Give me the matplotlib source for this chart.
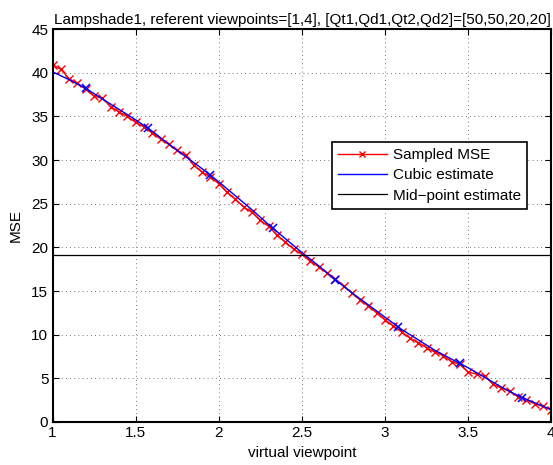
import numpy as np
import matplotlib
matplotlib.use('Agg')
import matplotlib.pyplot as plt

plt.rcParams['font.family'] = ['Liberation Sans', 'DejaVu Sans']

# sampled MSE, every 0.05 from 1 to 4
x_samp = np.arange(61) * 0.05 + 1.0
mse_samp = [40.9, 40.4, 39.3, 38.8, 38.1, 37.3, 37.1, 36.1, 35.5, 35.0,
            34.3, 33.8, 33.1, 32.4, 31.8, 31.1, 30.6, 29.4, 28.6, 28.1,
            27.3, 26.3, 25.5, 24.6, 24.0, 23.1, 22.4, 21.4, 20.6, 19.8,
            19.2, 18.4, 17.8, 17.1, 16.4, 15.6, 14.8, 14.0, 13.3, 12.5,
            11.7, 11.0, 10.3, 9.6, 9.1, 8.5, 8.0, 7.6, 6.9, 6.6,
            5.7, 5.5, 5.3, 4.3, 3.9, 3.5, 2.9, 2.5, 2.1, 1.8, 1.4]

# cubic estimate
x_cubic = [1.0, 1.1, 1.2, 1.3, 1.4, 1.5, 1.6, 1.7, 1.8, 1.9, 2.0,
           2.1, 2.2, 2.3, 2.4, 2.5, 2.6, 2.7, 2.8, 2.9, 3.0,
           3.1, 3.2, 3.3, 3.4, 3.5, 3.6, 3.7, 3.8, 3.9, 4.0]
mse_cubic = [40.1, 39.2, 38.2, 37.0, 35.8, 34.6, 33.3, 31.8, 30.4, 29.0, 27.5,
             25.9, 24.3, 22.6, 21.0, 19.4, 17.9, 16.3, 14.8, 13.4, 12.0,
             10.6, 9.4, 8.2, 7.2, 6.2, 5.1, 4.0, 3.0, 2.2, 1.4]

# points marked on the cubic
x_pts = [1.2, 1.575, 1.95, 2.325, 2.7, 3.075, 3.45, 3.825]
mse_pts = [38.2, 33.7, 28.3, 22.2, 16.3, 10.9, 6.7, 2.75]

midpoint = 19.1

fig = plt.figure(figsize=(5.53, 4.65), dpi=100)
ax = fig.add_axes([0.095, 0.0925, 0.902, 0.845])

ax.plot(x_samp, mse_samp, color='red', marker='x', ms=5.5, mew=1, lw=1,
        label='Sampled MSE')
ax.plot(x_cubic, mse_cubic, color='blue', lw=1, label='Cubic estimate')
ax.plot(x_pts, mse_pts, ls='none', marker='x', ms=6, mew=1.1, color='blue')
ax.axhline(midpoint, color='black', lw=0.9, label='Mid\u2212point estimate')

ax.set_xlim(1, 4)
ax.set_ylim(0, 45)
ax.set_xticks([1, 1.5, 2, 2.5, 3, 3.5, 4])
ax.set_xticklabels(['1', '1.5', '2', '2.5', '3', '3.5', '4'])
ax.set_yticks(range(0, 46, 5))
ax.grid(True, color='black', ls=(0, (1, 4)), lw=0.6, alpha=0.7)
ax.tick_params(direction='in', top=True, right=True, labelsize=11, length=4, pad=3)
for s in ax.spines.values():
    s.set_linewidth(1.5)

ax.set_xlabel('virtual viewpoint', fontsize=11, labelpad=4)
ax.set_ylabel('MSE', fontsize=11, labelpad=6)
ax.set_title('Lampshade1, referent viewpoints=[1,4], [Qt1,Qd1,Qt2,Qd2]=[50,50,20,20]',
             fontsize=11, pad=4)

handles, labels = ax.get_legend_handles_labels()
leg = ax.legend(handles, labels, loc='upper left', bbox_to_anchor=(0.56, 0.713),
                borderaxespad=0, fancybox=False, framealpha=1, edgecolor='black',
                fontsize=11, handlelength=3.2, handletextpad=0.4,
                labelspacing=0.42, borderpad=0.4, markerscale=0.8)
leg.get_frame().set_linewidth(1.2)
leg.legend_handles[0].set_markevery([1])

fig.savefig('out.png', dpi=100)
